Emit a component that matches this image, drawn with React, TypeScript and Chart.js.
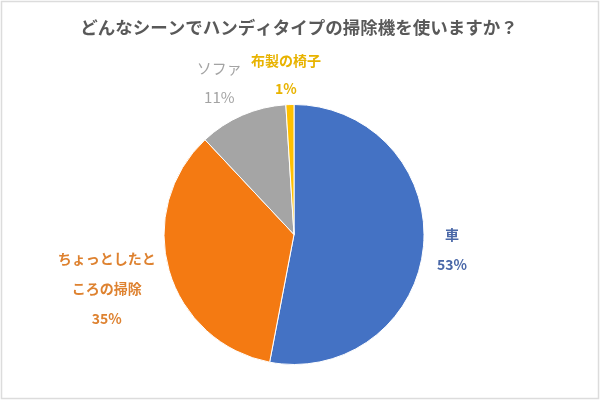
import React, { useEffect, useRef } from "react";
import { Chart, registerables } from "chart.js";

Chart.register(...registerables);

const TITLE = "どんなシーンでハンディタイプの掃除機を使いますか？";
const categories = ["車", "ちょっとしたところの掃除", "ソファ", "布製の椅子"];
const labelLines = [["車"], ["ちょっとしたと", "ころの掃除"], ["ソファ"], ["布製の椅子"]];
const values = [53, 35, 11, 1];
const sliceColors = ["#4472C4", "#F47A12", "#A5A5A5", "#FFC000"];
const labelColors = ["#4A68A8", "#DE8230", "#A3A3A3", "#E8B300"];
// layout only: label placement relative to each slice
const labelRadius = [1.22, 1.5, 1.33, 1.23];
const labelShiftX = [0, 0, -6, -3];
const labelShiftY = [0, 0, 7, 0];
const labelFonts = ["bold 14px", "bold 14px", "15px", "bold 14px"];
const labelLineH = [30, 30, 29, 28];

const FONT = '"Noto Sans CJK JP", "Noto Sans", sans-serif';

const labelsPlugin = {
  id: "customLabels",
  beforeDraw(chart: any) {
    const ctx = chart.ctx;
    ctx.save();
    ctx.fillStyle = "#ffffff";
    ctx.fillRect(0, 0, chart.width, chart.height);
    ctx.strokeStyle = "#dcdcdc";
    ctx.lineWidth = 1.5;
    ctx.strokeRect(1.5, 1.5, chart.width - 3, chart.height - 3);
    ctx.restore();
  },
  afterDraw(chart: any) {
    const ctx = chart.ctx;
    ctx.save();
    ctx.fillStyle = "#595959";
    ctx.font = `bold 17.5px ${FONT}`;
    ctx.textAlign = "center";
    ctx.textBaseline = "middle";
    ctx.fillText(TITLE, 299, 27);

    const meta = chart.getDatasetMeta(0);
    const data = chart.data.datasets[0].data as number[];
    const total = data.reduce((a, b) => a + b, 0);
    meta.data.forEach((arc: any, i: number) => {
      const mid = (arc.startAngle + arc.endAngle) / 2;
      const r = arc.outerRadius * labelRadius[i];
      const cx = arc.x + Math.cos(mid) * r + labelShiftX[i];
      const cy = arc.y + Math.sin(mid) * r + labelShiftY[i];
      const lines = [...labelLines[i], Math.round((data[i] / total) * 100) + "%"];
      const lh = labelLineH[i];
      ctx.fillStyle = labelColors[i];
      ctx.font = `${labelFonts[i]} ${FONT}`;
      lines.forEach((t, k) => {
        ctx.fillText(t, cx, cy + (k - (lines.length - 1) / 2) * lh);
      });
    });
    ctx.restore();
  },
};

export default function App() {
  const ref = useRef<HTMLCanvasElement | null>(null);
  useEffect(() => {
    if (!ref.current) return;
    const chart = new Chart(ref.current, {
      type: "pie",
      data: {
        labels: categories,
        datasets: [
          {
            data: values,
            backgroundColor: sliceColors,
            borderColor: "#ffffff",
            borderWidth: 1,
          },
        ],
      },
      options: {
        animation: false,
        responsive: false,
        maintainAspectRatio: false,
        layout: { padding: { top: 104, bottom: 35, left: 150, right: 162 } },
        plugins: {
          legend: { display: false },
          title: { display: false },
          tooltip: { enabled: false },
        },
      },
      plugins: [labelsPlugin],
    });
    return () => chart.destroy();
  }, []);
  return (
    <div style={{ position: "absolute", left: 0, top: 0, width: 600, height: 400 }}>
      <canvas ref={ref} width={600} height={400} style={{ width: 600, height: 400 }} />
    </div>
  );
}
